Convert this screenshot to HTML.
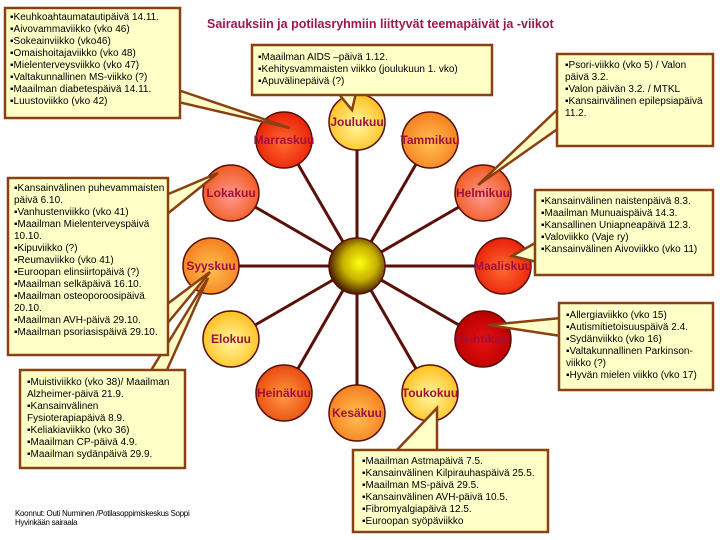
<!DOCTYPE html>
<html><head><meta charset="utf-8"><style>
body{margin:0;width:720px;height:540px;background:#fff;overflow:hidden;font-family:"Liberation Sans",Arial,sans-serif}
svg{position:absolute;left:0;top:0}
.t{position:absolute;font-size:10px;line-height:12px;color:#000;white-space:nowrap}
</style></head><body>
<svg width="720" height="540" viewBox="0 0 720 540">
<defs>
<radialGradient id="c" cx="55%" cy="45%" r="55%"><stop offset="0" stop-color="#ffff10"/><stop offset="0.55" stop-color="#c8b000"/><stop offset="1" stop-color="#4a2200"/></radialGradient>
<radialGradient id="yel" cx="50%" cy="55%" r="55%"><stop offset="0" stop-color="#fff8a0"/><stop offset="1" stop-color="#ffc020"/></radialGradient>
<radialGradient id="org" cx="50%" cy="55%" r="55%"><stop offset="0" stop-color="#ffc050"/><stop offset="1" stop-color="#f58020"/></radialGradient>
<radialGradient id="sal" cx="50%" cy="55%" r="55%"><stop offset="0" stop-color="#ff9a90"/><stop offset="1" stop-color="#f05a20"/></radialGradient>
<radialGradient id="red" cx="50%" cy="55%" r="55%"><stop offset="0" stop-color="#ff6a30"/><stop offset="1" stop-color="#e82008"/></radialGradient>
<radialGradient id="drd" cx="50%" cy="55%" r="55%"><stop offset="0" stop-color="#e81010"/><stop offset="1" stop-color="#b80000"/></radialGradient>
<radialGradient id="or2" cx="50%" cy="55%" r="55%"><stop offset="0" stop-color="#ff9a40"/><stop offset="1" stop-color="#e84a10"/></radialGradient>
</defs>
<g stroke="#5a1008" stroke-width="3">
<line x1="357" y1="266" x2="357" y2="122"/><line x1="357" y1="266" x2="284" y2="140"/><line x1="357" y1="266" x2="430" y2="140"/>
<line x1="357" y1="266" x2="231" y2="193"/><line x1="357" y1="266" x2="483" y2="193"/><line x1="357" y1="266" x2="211" y2="266"/>
<line x1="357" y1="266" x2="503" y2="266"/><line x1="357" y1="266" x2="231" y2="339"/><line x1="357" y1="266" x2="483" y2="339"/>
<line x1="357" y1="266" x2="284" y2="393"/><line x1="357" y1="266" x2="430" y2="393"/><line x1="357" y1="266" x2="357" y2="413"/>
</g>
<g stroke="#5a1008" stroke-width="1.5">
<circle cx="357" cy="122" r="28" fill="url(#yel)"/>
<circle cx="284" cy="140" r="28" fill="url(#red)"/>
<circle cx="430" cy="140" r="28" fill="url(#org)"/>
<circle cx="231" cy="193" r="28" fill="url(#sal)"/>
<circle cx="483" cy="193" r="28" fill="url(#sal)"/>
<circle cx="211" cy="266" r="28" fill="url(#org)"/>
<circle cx="503" cy="266" r="28" fill="url(#red)"/>
<circle cx="231" cy="339" r="28" fill="url(#yel)"/>
<circle cx="483" cy="339" r="28" fill="url(#drd)"/>
<circle cx="284" cy="393" r="28" fill="url(#or2)"/>
<circle cx="430" cy="393" r="28" fill="url(#yel)"/>
<circle cx="357" cy="413" r="28" fill="url(#org)"/>
<circle cx="357" cy="266" r="28" fill="url(#c)"/>
</g>
<g fill="#a0103a" font-family="Liberation Sans,Arial,sans-serif" font-weight="bold" font-size="12" text-anchor="middle">
<text x="357" y="126">Joulukuu</text><text x="284" y="144">Marraskuu</text><text x="430" y="144">Tammikuu</text>
<text x="231" y="197">Lokakuu</text><text x="483" y="197">Helmikuu</text><text x="211" y="270">Syyskuu</text>
<text x="503" y="270">Maaliskuu</text><text x="231" y="343">Elokuu</text><text x="483" y="343">Huhtikuu</text>
<text x="284" y="397">Heinäkuu</text><text x="430" y="397">Toukokuu</text><text x="357" y="417">Kesäkuu</text>
</g>
<g fill="#ffffc8" stroke="#8a4010" stroke-width="2.5" stroke-linejoin="miter">
<polygon points="178,90 290,128 178,102"/>
<polygon points="338,93 352,110 356,93"/>
<polygon points="559,108 478,185 559,128"/>
<polygon points="166,195 218,173 166,215"/>
<polygon points="166,305 210,272 166,325"/>
<polygon points="150,372 208,278 166,372"/>
<polygon points="537,242 512,256 537,262"/>
<polygon points="561,318 488,325 561,336"/>
<polygon points="395,452 437,408 437,452"/>
<rect x="5" y="8" width="175" height="110"/>
<rect x="252" y="45" width="240" height="50"/>
<rect x="557" y="54" width="156" height="92"/>
<rect x="8" y="178" width="160" height="177"/>
<rect x="20" y="370" width="165" height="98"/>
<rect x="535" y="190" width="178" height="85"/>
<rect x="559" y="303" width="154" height="87"/>
<rect x="353" y="450" width="195" height="82"/>
</g>
</svg>
<div style="position:absolute;left:207px;top:17px;font-size:12.5px;font-weight:bold;color:#9a1a50">Sairauksiin ja potilasryhmiin liittyvät teemapäivät ja -viikot</div>
<div class="t" style="left:10px;top:12px">▪Keuhkoahtaumatautipäivä 14.11.<br>▪Aivovammaviikko (vko 46)<br>▪Sokeainviikko (vko46)<br>▪Omaishoitajaviikko (vko 48)<br>▪Mielenterveysviikko (vko 47)<br>▪Valtakunnallinen MS-viikko (?)<br>▪Maailman diabetespäivä 14.11.<br>▪Luustoviikko (vko 42)</div>
<div class="t" style="left:258px;top:52px">▪Maailman AIDS –päivä 1.12.<br>▪Kehitysvammaisten viikko (joulukuun 1. vko)<br>▪Apuvälinepäivä (?)</div>
<div class="t" style="left:565px;top:60px">▪Psori-viikko (vko 5) / Valon<br>päivä 3.2.<br>▪Valon päivän 3.2. / MTKL<br>▪Kansainvälinen epilepsiapäivä<br>11.2.</div>
<div class="t" style="left:14px;top:183px">▪Kansainvälinen puhevammaisten<br>päivä 6.10.<br>▪Vanhustenviikko (vko 41)<br>▪Maailman Mielenterveyspäivä<br>10.10.<br>▪Kipuviikko (?)<br>▪Reumaviikko (vko 41)<br>▪Euroopan elinsiirtopäivä (?)<br>▪Maailman selkäpäivä 16.10.<br>▪Maailman osteoporoosipäivä<br>20.10.<br>▪Maailman AVH-päivä 29.10.<br>▪Maailman psoriasispäivä 29.10.</div>
<div class="t" style="left:27px;top:377px">▪Muistiviikko (vko 38)/ Maailman<br>Alzheimer-päivä 21.9.<br>▪Kansainvälinen<br>Fysioterapiapäivä 8.9.<br>▪Keliakiaviikko (vko 36)<br>▪Maailman CP-päivä 4.9.<br>▪Maailman sydänpäivä 29.9.</div>
<div class="t" style="left:541px;top:196px">▪Kansainvälinen naistenpäivä 8.3.<br>▪Maailman Munuaispäivä 14.3.<br>▪Kansallinen Uniapneapäivä 12.3.<br>▪Valoviikko (Vaje ry)<br>▪Kansainvälinen Aivoviikko (vko 11)</div>
<div class="t" style="left:566px;top:310px">▪Allergiaviikko (vko 15)<br>▪Autismitietoisuuspäivä 2.4.<br>▪Sydänviikko (vko 16)<br>▪Valtakunnallinen Parkinson-<br>viikko (?)<br>▪Hyvän mielen viikko (vko 17)</div>
<div class="t" style="left:362px;top:456px">▪Maailman Astmapäivä 7.5.<br>▪Kansainvälinen Kilpirauhaspäivä 25.5.<br>▪Maailman MS-päivä 29.5.<br>▪Kansainvälinen AVH-päivä 10.5.<br>▪Fibromyalgiapäivä 12.5.<br>▪Euroopan syöpäviikko</div>
<div class="t" style="left:15px;top:509px;font-size:8px;line-height:9px;letter-spacing:-0.3px">Koonnut: Outi Nurminen /Potilasoppimiskeskus Soppi<br>Hyvinkään sairaala</div>
</body></html>
